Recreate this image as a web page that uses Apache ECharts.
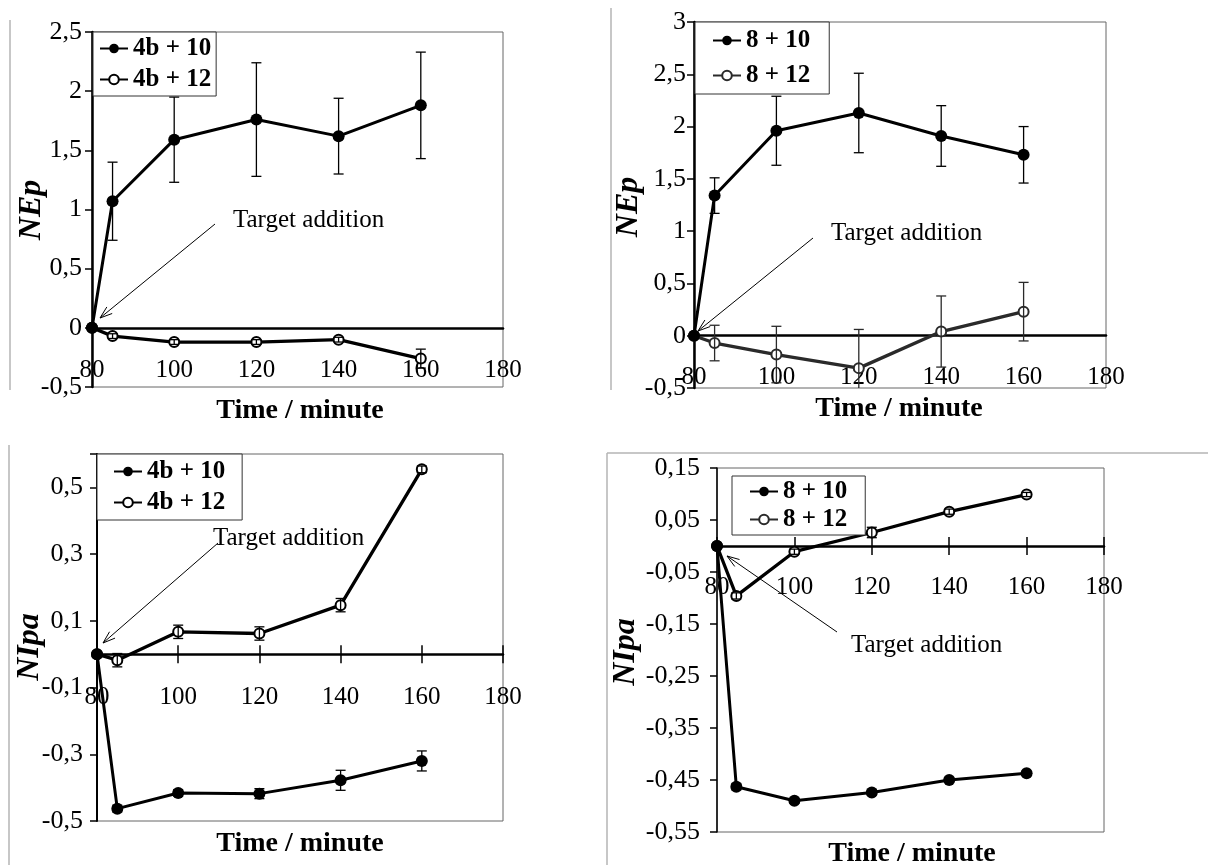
<!DOCTYPE html>
<html>
<head>
<meta charset="utf-8">
<title>NEp / NIpa vs time</title>
<script src="https://cdn.jsdelivr.net/npm/echarts@6/dist/echarts.min.js"></script>
<style>
  html, body { margin: 0; padding: 0; background: #fff; }
  #chart { width: 1208px; height: 865px; }
</style>
</head>
<body>
<div id="chart"></div>
<script>
// sampling times, minutes
const times = [80, 85, 100, 120, 140, 160];

// top left: NEp, 4b
const nep4b10 = [0, 1.07, 1.59, 1.76, 1.62, 1.88];
const nep4b10Err = [0, 0.33, 0.36, 0.48, 0.32, 0.45];
const nep4b12 = [0, -0.07, -0.12, -0.12, -0.1, -0.26];
const nep4b12Err = [0, 0.02, 0.02, 0.02, 0.02, 0.08];

// top right: NEp, 8
const nep810 = [0, 1.34, 1.96, 2.13, 1.91, 1.73];
const nep810Err = [0, 0.17, 0.33, 0.38, 0.29, 0.27];
const nep812 = [0, -0.07, -0.18, -0.31, 0.04, 0.23];
const nep812Err = [0, 0.17, 0.27, 0.37, 0.34, 0.28];

// bottom left: NIpa, 4b
const nipa4b10 = [0, -0.463, -0.416, -0.418, -0.378, -0.32];
const nipa4b10Err = [0, 0.01, 0.01, 0.015, 0.03, 0.03];
const nipa4b12 = [0, -0.018, 0.067, 0.062, 0.147, 0.554];
const nipa4b12Err = [0, 0.02, 0.02, 0.02, 0.02, 0.01];

// bottom right: NIpa, 8
const nipa810 = [0, -0.463, -0.49, -0.474, -0.45, -0.437];
const nipa810Err = [0, 0.006, 0.005, 0.005, 0.005, 0.004];
const nipa812 = [0, -0.096, -0.011, 0.026, 0.066, 0.099];
const nipa812Err = [0, 0.006, 0.005, 0.01, 0.005, 0.004];

// tick labels
const xTicks = [80, 100, 120, 140, 160, 180];
const nepTicksA = [-0.5, 0, 0.5, 1, 1.5, 2, 2.5];
const nepTicksB = [-0.5, 0, 0.5, 1, 1.5, 2, 2.5, 3];
const nipaTicksA = [-0.5, -0.3, -0.1, 0.1, 0.3, 0.5];
const nipaTicksB = [-0.55, -0.45, -0.35, -0.25, -0.15, -0.05, 0.05, 0.15];

const FONT = '"Liberation Serif", "Times New Roman", serif';

const panels = [
  { grid: { left: 92, top: 32, width: 411, height: 355 }, min: -0.5, max: 2.5, ticks: nepTicksA, step: 0.5,
    labelMargin: 10, axisW: 2.5, crossTicks: false, xLabelGap: 30,
    s: [['4b + 10', nep4b10, nep4b10Err, '#000'], ['4b + 12', nep4b12, nep4b12Err, '#000']],
    legend: { left: 93, top: 32, padding: [3, 5, 3, 6], itemGap: 4 } },
  { grid: { left: 694, top: 22, width: 412, height: 366 }, min: -0.5, max: 3, ticks: nepTicksB, step: 0.5,
    labelMargin: 8, axisW: 2.5, crossTicks: false, xLabelGap: 29,
    s: [['8 + 10', nep810, nep810Err, '#000'], ['8 + 12', nep812, nep812Err, '#2a2a2a']],
    legend: { left: 695, top: 22, padding: [5, 19, 5, 17], itemGap: 8 } },
  { grid: { left: 97, top: 454, width: 406, height: 367 }, min: -0.5, max: 0.6, ticks: nipaTicksA, step: 0.2,
    labelMargin: 14, axisW: 2, crossTicks: true, xLabelGap: 31,
    s: [['4b + 10', nipa4b10, nipa4b10Err, '#000'], ['4b + 12', nipa4b12, nipa4b12Err, '#000']],
    legend: { left: 97, top: 454, padding: [4, 17, 4, 16], itemGap: 4 } },
  { grid: { left: 717, top: 468, width: 387, height: 364 }, min: -0.55, max: 0.15, ticks: nipaTicksB, step: 0.1,
    labelMargin: 17, axisW: 1.5, crossTicks: true, xLabelGap: 29,
    s: [['8 + 10', nipa810, nipa810Err, '#000'], ['8 + 12', nipa812, nipa812Err, '#000']],
    legend: { left: 732, top: 476, padding: [2, 18, 2, 17], itemGap: 1 } }
];

function fmt(v) {
  const r = Math.round(v * 100) / 100;
  return String(r).replace('.', ',');
}

function errorBars(color) {
  return function (params, api) {
    const x = api.value(0);
    const lo = api.coord([x, api.value(1)]);
    const hi = api.coord([x, api.value(2)]);
    const w = 5;
    const style = { stroke: color, lineWidth: 1.3 };
    return {
      type: 'group',
      children: [
        { type: 'line', shape: { x1: lo[0], y1: lo[1], x2: hi[0], y2: hi[1] }, style },
        { type: 'line', shape: { x1: lo[0] - w, y1: lo[1], x2: lo[0] + w, y2: lo[1] }, style },
        { type: 'line', shape: { x1: hi[0] - w, y1: hi[1], x2: hi[0] + w, y2: hi[1] }, style }
      ]
    };
  };
}

const grids = [], xAxes = [], yAxes = [], series = [], legends = [];

panels.forEach((p, gi) => {
  grids.push(Object.assign({ show: true, borderColor: '#666', borderWidth: 1, backgroundColor: 'transparent' }, p.grid));

  const h = p.grid.height;
  // distance from the zero line down to the bottom of the plot
  const zeroToBottom = h * (0 - p.min) / (p.max - p.min);
  const zeroToTop = h * p.max / (p.max - p.min);

  const mainX = xAxes.length;
  xAxes.push({
    gridIndex: gi, type: 'value', min: 80, max: 180, interval: 20, position: 'bottom',
    axisLine: { onZero: true, lineStyle: { color: '#000', width: 2.5 } },
    axisTick: { show: p.crossTicks, length: 9, lineStyle: { color: '#000', width: 1.5 } },
    axisLabel: {
      margin: p.xLabelGap - zeroToBottom, color: '#000', fontFamily: FONT, fontSize: 25,
      showMinLabel: true, showMaxLabel: true,
      formatter: v => xTicks.includes(v) ? String(v) : ''
    },
    splitLine: { show: false }
  });
  if (p.crossTicks) {
    // second copy of the axis, only for the upper half of the crossing ticks
    xAxes.push({
      gridIndex: gi, type: 'value', min: 80, max: 180, interval: 20, position: 'top',
      offset: -zeroToTop,
      axisLine: { show: false },
      axisTick: { show: true, length: 9, lineStyle: { color: '#000', width: 1.5 } },
      axisLabel: { show: false },
      splitLine: { show: false }
    });
  }

  yAxes.push({
    gridIndex: gi, type: 'value', min: p.min, max: p.max, interval: p.step,
    axisLine: { show: true, onZero: false, lineStyle: { color: '#000', width: p.axisW } },
    axisTick: { show: true, length: 7, lineStyle: { color: '#000', width: 1.5 } },
    axisLabel: {
      margin: p.labelMargin, color: '#000', fontFamily: FONT, fontSize: 26,
      formatter: v => p.ticks.some(t => Math.abs(t - v) < 1e-6) ? fmt(v) : ''
    },
    splitLine: { show: false }
  });

  p.s.forEach(([name, vals, errs, color], k) => {
    const filled = k === 0;
    series.push({
      name, type: 'line', xAxisIndex: mainX, yAxisIndex: gi,
      data: times.map((t, i) => [t, vals[i]]),
      symbol: filled ? 'circle' : 'emptyCircle',
      symbolSize: filled ? 12 : 10,
      showSymbol: true,
      itemStyle: { color, borderColor: color, borderWidth: filled ? 0 : 1.4 },
      lineStyle: { color, width: filled ? 3 : 3.3 },
      z: filled ? 4 : 2
    });
    series.push({
      type: 'custom', xAxisIndex: mainX, yAxisIndex: gi, silent: true, clip: true, z: 3,
      data: times.map((t, i) => [t, vals[i] - errs[i], vals[i] + errs[i]]).filter((d, i) => errs[i] > 0),
      encode: { x: 0, y: [1, 2] },
      renderItem: errorBars(color)
    });
  });

  legends.push(Object.assign({
    orient: 'vertical', selectedMode: false,
    data: p.s.map(s => s[0]),
    backgroundColor: '#fff', borderColor: '#333', borderWidth: 1,
    itemWidth: 28, itemHeight: 12,
    textStyle: { fontFamily: FONT, fontWeight: 'bold', fontSize: 25, color: '#000', lineHeight: 27 }
  }, p.legend));
});

function arrow(x1, y1, x2, y2) {
  const a = Math.atan2(y2 - y1, x2 - x1), L = 13, s = 0.33;
  const p1 = [x2 - L * Math.cos(a - s), y2 - L * Math.sin(a - s)];
  const p2 = [x2 - L * Math.cos(a + s), y2 - L * Math.sin(a + s)];
  return [
    { type: 'line', shape: { x1, y1, x2, y2 }, style: { stroke: '#000', lineWidth: 1 }, z: 10 },
    { type: 'polyline', shape: { points: [p1, [x2, y2], p2] }, style: { stroke: '#000', lineWidth: 1, fill: null }, z: 10 }
  ];
}

function text(str, x, y, font, align, rotation) {
  return {
    type: 'text', x, y, z: 10, rotation: rotation || 0,
    style: { text: str, font, fill: '#000', align: align || 'center', verticalAlign: 'middle' }
  };
}

const titleFont = 'bold 28px ' + FONT;
const yTitleFont = 'bold italic 32px ' + FONT;
const noteFont = '25px ' + FONT;
const R = Math.PI / 2;

const graphic = [
  // page edges from the original layout
  { type: 'line', shape: { x1: 10, y1: 20, x2: 10, y2: 390 }, style: { stroke: '#b5b5b5', lineWidth: 1.5 } },
  { type: 'line', shape: { x1: 611, y1: 8, x2: 611, y2: 390 }, style: { stroke: '#b5b5b5', lineWidth: 1.5 } },
  { type: 'line', shape: { x1: 9, y1: 445, x2: 9, y2: 865 }, style: { stroke: '#b5b5b5', lineWidth: 1.5 } },
  { type: 'line', shape: { x1: 607, y1: 453, x2: 1208, y2: 453 }, style: { stroke: '#b5b5b5', lineWidth: 1.5 } },
  { type: 'line', shape: { x1: 607, y1: 453, x2: 607, y2: 865 }, style: { stroke: '#b5b5b5', lineWidth: 1.5 } },

  text('Time / minute', 300, 411, titleFont),
  text('Time / minute', 899, 409, titleFont),
  text('Time / minute', 300, 844, titleFont),
  text('Time / minute', 912, 854, titleFont),

  text('NEp', 32, 210, yTitleFont, 'center', R),
  text('NEp', 629, 207, yTitleFont, 'center', R),
  text('NIpa', 30, 647, yTitleFont, 'center', R),
  text('NIpa', 626, 652, yTitleFont, 'center', R),

  text('Target addition', 233, 220, noteFont, 'left'),
  text('Target addition', 831, 233, noteFont, 'left'),
  text('Target addition', 213, 538, noteFont, 'left'),
  text('Target addition', 851, 645, noteFont, 'left')
].concat(
  arrow(215, 224, 100, 318),
  arrow(813, 238, 698, 331),
  arrow(218, 543, 103, 643),
  arrow(837, 632, 727, 556)
);

const chart = echarts.init(document.getElementById('chart'), null, { renderer: 'canvas' });
chart.setOption({
  animation: false,
  backgroundColor: '#fff',
  grid: grids,
  xAxis: xAxes,
  yAxis: yAxes,
  legend: legends,
  series,
  graphic
});
</script>
</body>
</html>
